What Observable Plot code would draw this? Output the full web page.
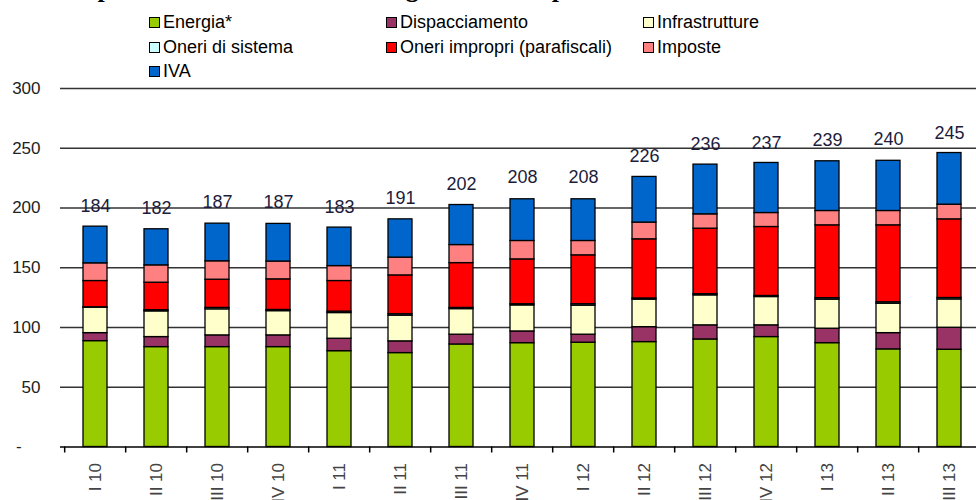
<!DOCTYPE html>
<html><head><meta charset="utf-8">
<script src="https://cdn.jsdelivr.net/npm/d3@7"></script>
<script src="https://cdn.jsdelivr.net/npm/@observablehq/plot@0.6"></script>
<style>
html,body{margin:0;padding:0;background:#fff;overflow:hidden;width:976px;height:500px;}
#wrap{position:relative;width:976px;height:500px;overflow:hidden;background:#fff;}
#title{position:absolute;left:44px;top:-26px;font:bold 26px "Liberation Serif","Times New Roman",serif;white-space:nowrap;color:#000;line-height:30px;}
#legend{position:absolute;left:0;top:0;width:976px;height:80px;font:18px "Liberation Sans",Arial,sans-serif;color:#000;}
.item{position:absolute;display:flex;align-items:center;gap:3px;white-space:nowrap;line-height:20px;}
.sw{width:9px;height:9px;border:1px solid #000;box-sizing:content-box;}
#chart{position:absolute;left:0;top:80px;}
</style></head>
<body><div id="wrap"><div id="title">Composizione della bolletta energetica media per le PMI</div><div id="legend"></div><div id="chart"></div></div>
<script>
const quarters = ["I 10","II 10","III 10","IV 10","I 11","II 11","III 11","IV 11","I 12","II 12","III 12","IV 12","I 13","II 13","III 13"];
const energia        = [88.6, 83.6, 83.6, 83.6, 80.2, 78.6, 85.8, 86.9, 87.3, 87.8, 90.0, 92.0, 86.9, 81.7, 81.4];
const dispacciamento = [6.7, 8.4, 9.8, 9.8, 10.4, 9.8, 8.2, 9.8, 6.7, 12.5, 11.8, 9.8, 12.1, 13.6, 18.4];
const infrastrutture = [21.3, 21.5, 21.8, 20.3, 21.5, 21.5, 21.4, 21.8, 24.3, 23.0, 25.1, 23.7, 24.3, 24.6, 23.7];
const oneriSistema   = [0.3, 1.0, 1.2, 1.0, 1.2, 1.2, 1.0, 1.0, 1.2, 1.0, 1.0, 0.9, 1.2, 1.2, 1.2];
const oneriImpropri  = [22.0, 23.0, 23.6, 25.6, 25.6, 32.5, 37.5, 37.5, 40.9, 49.5, 54.8, 57.7, 61.0, 64.4, 65.8];
const imposte        = [14.8, 14.5, 15.4, 14.9, 12.5, 14.9, 15.1, 15.4, 12.0, 14.0, 12.0, 11.7, 12.0, 12.0, 12.3];
const iva            = [30.7, 30.2, 31.5, 31.5, 32.2, 32.0, 33.5, 34.9, 34.9, 38.2, 41.6, 41.9, 41.6, 42.0, 43.2];
const totals         = [184, 182, 187, 187, 183, 191, 202, 208, 208, 226, 236, 237, 239, 240, 245];
const yTicks = [0, 50, 100, 150, 200, 250, 300];

const seriesNames  = ["Energia*","Dispacciamento","Infrastrutture","Oneri di sistema","Oneri impropri (parafiscali)","Imposte","IVA"];
const seriesValues = [energia, dispacciamento, infrastrutture, oneriSistema, oneriImpropri, imposte, iva];
const seriesColors = ["#99cc00","#993366","#ffffcc","#ccffff","#ff0000","#ff8080","#0066cc"];

const rows = [];
seriesNames.forEach((s, k) => quarters.forEach((q, i) => rows.push({quarter: q, serie: s, value: seriesValues[k][i]})));

// legend (HTML above the chart)
const legendPos = [[149,12],[386,12],[643,12],[149,37],[386,37],[643,37],[149,61]];
const legend = document.getElementById("legend");
seriesNames.forEach((s, k) => {
  const it = document.createElement("div");
  it.className = "item";
  it.style.left = legendPos[k][0] + "px";
  it.style.top = legendPos[k][1] + "px";
  it.innerHTML = `<span class="sw" style="background:${seriesColors[k]}"></span><span>${s}</span>`;
  legend.appendChild(it);
});

const W = 976, H = 420, n = quarters.length, x0 = 60, step = 61.64;
const chart = Plot.plot({
  width: W, height: H,
  marginTop: 8, marginBottom: 53.5, marginLeft: 60, marginRight: 0,
  style: {fontFamily: "'Liberation Sans', Arial, sans-serif", background: "transparent", overflow: "visible"},
  x: {domain: quarters, range: [x0, x0 + n * step], paddingInner: 0.6, paddingOuter: 0.3, label: null},
  y: {domain: [0, 300], label: null},
  color: {domain: seriesNames, range: seriesColors},
  marks: [
    Plot.ruleY(yTicks.filter(d => d > 0), {stroke: "#333", strokeWidth: 1.6}),
    Plot.barY(rows, {x: "quarter", y: "value", fill: "serie", order: seriesNames, stroke: "#000", strokeWidth: 1.3}),
    Plot.ruleY([0], {stroke: "#000", strokeWidth: 1.6}),
    Plot.axisY({ticks: yTicks, tickSize: 0, tickPadding: 20, fontSize: 17, fill: "#222",
      tickFormat: d => d === 0 ? "-\u2007\u2007" : String(d)}),
    Plot.axisX({tickSize: 0, tickPadding: 16, tickRotate: -90, fontSize: 17, fill: "#444"}),
    Plot.axisX({tickSize: 6, text: null, dx: -step / 2, stroke: "#000", strokeWidth: 1.5}),
    Plot.text(totals, {x: (d, i) => quarters[i], y: d => d, text: d => String(d), dy: -21, fontSize: 18, fill: "#1c1c3c"})
  ]
});
document.getElementById("chart").appendChild(chart);
</script>
</body></html>
